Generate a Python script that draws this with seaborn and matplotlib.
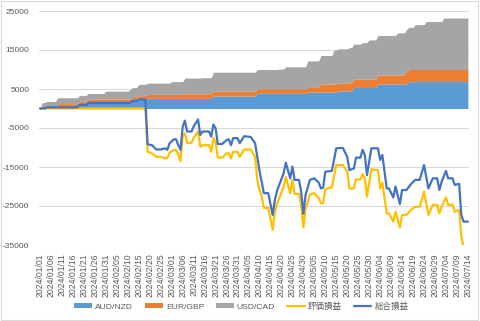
import numpy as np
import pandas as pd
import matplotlib
matplotlib.use("Agg")
import matplotlib.pyplot as plt
from matplotlib.patches import Patch, Rectangle
from matplotlib.lines import Line2D
import seaborn as sns

# ---------------- data ----------------
start_date = "2024-01-01"
end_date = "2024-07-14"

series_names = ["AUD/NZD", "EUR/GBP", "USD/CAD"]
line_names = ["評価損益", "総合損益"]

# realized P&L per pair (cumulative), change days (days after 2024-01-01) and values
aud_nzd_days = [0, 3, 18, 22, 42, 45, 49, 79, 99, 122, 136, 143, 154, 168]
aud_nzd_vals = [0, 300, 900, 1400, 1900, 2300, 2600, 3200, 3900, 4200, 4500, 5400, 6300, 6900]

eur_gbp_days = [0, 8, 46, 66, 128, 154, 167]
eur_gbp_vals = [0, 950, 1000, 1200, 2100, 2300, 3100]

usd_cad_days = [0, 1, 30, 41, 45, 60, 66, 74, 79, 109, 112, 122, 128, 134, 141, 147,
                150, 163, 171, 176, 184]
usd_cad_vals = [0, 1500, 2100, 2500, 2900, 3300, 4000, 4100, 4900, 5000, 5600, 6800,
                7300, 8700, 9000, 9400, 10100, 10800, 11500, 12300, 13200]

# P&L lines
line_days = [0, 2, 3, 17, 18, 21, 22, 41, 42, 44, 45, 48, 49, 51, 53, 55, 57, 58, 59,
             61, 62, 63, 64, 65, 66, 67, 69, 70, 72, 73, 74, 77, 78, 79, 80, 81, 83,
             85, 86, 87, 88, 90, 91, 93, 96, 98, 99, 100, 101, 102, 104, 106, 107,
             108, 109, 111, 112, 114, 115, 116, 118, 119, 120, 121, 123, 125, 127,
             128, 129, 130, 133, 135, 138, 140, 141, 143, 144, 146, 147, 148, 149,
             151, 154, 155, 156, 158, 159, 161, 162, 164, 165, 167, 169, 171, 173,
             175, 177, 179, 181, 182, 183, 185, 186, 188, 189, 191, 192, 193, 195]
total_pl = [0, 0, 300, 300, 900, 900, 1400, 1400, 1900, 1900, 2300, 2300, -9200,
            -9400, -10500, -10500, -10200, -10600, -8900, -7900, -7900, -9400, -10600,
            -4600, -3100, -5900, -5900, -4600, -2800, -6800, -5900, -5900, -7200,
            -4100, -5100, -9100, -9100, -8100, -7900, -9400, -7600, -7600, -8900,
            -7100, -7300, -8900, -12400, -16000, -18800, -21700, -21700, -27300,
            -23500, -21100, -19600, -16600, -13900, -17900, -14900, -18300, -18300,
            -21300, -27000, -22200, -18300, -17900, -19000, -20500, -20300, -16200,
            -16000, -10200, -10100, -12400, -15800, -15400, -12600, -12600, -10600,
            -11900, -17100, -10200, -10200, -13200, -11900, -20500, -20500, -22800,
            -20000, -24500, -20900, -20900, -19400, -18300, -18300, -14500, -20500,
            -17900, -17900, -20900, -18800, -16000, -17900, -17900, -19600, -19300,
            -27300, -29000, -29000]
unrealized_pl = [0, 0, 0, 0, 0, 0, 0, 0, 0, 0, 0, 0, -11100,
                 -11500, -12400, -12400, -12800, -12700, -11300, -10600, -10600, -11900,
                 -13500, -7000, -6400, -8800, -8800, -7600, -5900, -9800, -9400, -9400,
                 -11100, -7600, -8500, -12600, -12600, -11500, -11500, -12800, -11100,
                 -11100, -12400, -10500, -10500, -12400, -18300, -20900, -22500, -25500,
                 -25500, -31100, -26500, -24500, -23000, -20000, -17600, -21700, -18300,
                 -21900, -21900, -25000, -30500, -25800, -22000, -21700, -23000, -24300,
                 -24300, -20700, -20200, -14500, -14500, -16200, -20500, -20500, -18200,
                 -18200, -16800, -17900, -22600, -15600, -15800, -20500, -19000, -26900,
                 -26900, -29000, -26500, -30500, -27300, -27300, -26000, -25200, -25200,
                 -21300, -27300, -24700, -24700, -26900, -25200, -22800, -24700, -24700,
                 -26500, -26000, -32900, -35500, -36500]

y_ticks = [-35000, -25000, -15000, -5000, 5000, 15000, 25000]

area_colors = ["#5B9BD5", "#ED7D31", "#A5A5A5"]
line_colors = ["#FFC000", "#4472C4"]

# ---------------- build ----------------
dates = pd.date_range(start_date, end_date, freq="D")
n = len(dates)
day_idx = np.arange(n)


def step_fill(days, vals):
    idx = np.searchsorted(np.array(days), day_idx, side="right") - 1
    return np.array(vals, dtype=float)[idx]


areas = [step_fill(aud_nzd_days, aud_nzd_vals),
         step_fill(eur_gbp_days, eur_gbp_vals),
         step_fill(usd_cad_days, usd_cad_vals)]

base = pd.Timestamp(start_date)
line_df = pd.DataFrame({
    "date": [base + pd.Timedelta(days=d) for d in line_days],
    "評価損益": unrealized_pl,
    "総合損益": total_pl,
})

sns.set_theme(style="white")
plt.rcParams["font.family"] = ["Liberation Sans", "Noto Sans CJK JP", "DejaVu Sans"]
plt.rcParams["axes.unicode_minus"] = False

fig = plt.figure(figsize=(4.8, 3.21), dpi=100)
ax = fig.add_axes([39 / 480, 1 - 245 / 321, (469 - 39) / 480, (245 - 11) / 321])

ax.stackplot(dates, *areas, colors=area_colors, linewidth=0, zorder=2)

for name, col in zip(line_names, line_colors):
    sns.lineplot(data=line_df, x="date", y=name, ax=ax, color=col,
                 linewidth=1.6, zorder=3)

ax.set_ylim(-35000, 25000)
ax.set_yticks(y_ticks)
ax.set_yticklabels([str(v) for v in y_ticks])
ax.set_xlim(base - pd.Timedelta(hours=12), pd.Timestamp(end_date) + pd.Timedelta(hours=12))
xt = pd.date_range(start_date, end_date, freq="5D")
ax.set_xticks(xt)
ax.set_xticklabels([d.strftime("%Y/%m/%d") for d in xt], rotation=90)

ax.grid(axis="y", color="#D9D9D9", linewidth=0.75, zorder=0)
ax.set_axisbelow(True)
for s in ax.spines.values():
    s.set_visible(False)
ax.tick_params(axis="both", length=0, colors="#595959")
ax.tick_params(axis="y", labelsize=6.0, pad=7)
ax.tick_params(axis="x", labelsize=6.2, pad=6)
ax.set_xlabel("")
ax.set_ylabel("")
if ax.get_legend():
    ax.get_legend().remove()

handles = [Patch(facecolor=c, edgecolor="none") for c in area_colors] + \
          [Line2D([0], [0], color=c, linewidth=1.6) for c in line_colors]
labels = series_names + line_names
fig.legend(handles, labels, loc="center", bbox_to_anchor=(0.503, 0.045), ncol=5,
           frameon=False, fontsize=6.1, handlelength=2.1, handleheight=0.5,
           handletextpad=0.35, columnspacing=1.4, labelcolor="#595959")

fig.patches.append(Rectangle((0.002, 0.003), 0.994, 0.994, transform=fig.transFigure,
                             fill=False, edgecolor="#D9D9D9", linewidth=0.8))

fig.savefig("out.png", dpi=100)
